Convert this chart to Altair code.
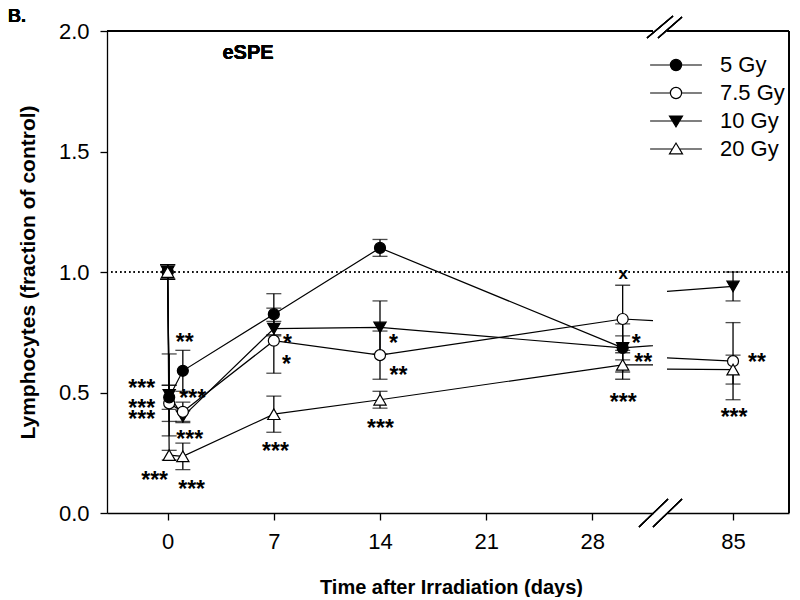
import altair as alt
import pandas as pd

FONT = "Liberation Sans"

# ---------------- data ----------------
series = ["5 Gy", "7.5 Gy", "10 Gy", "20 Gy"]
days = [0, 0.1, 1, 7, 14, 30, 85]

v5 = [1.00, 0.48, 0.59, 0.825, 1.10, 0.685, None]
e5 = [0.03, 0.05, 0.085, 0.085, 0.035, 0.05, None]
v75 = [1.00, 0.455, 0.42, 0.715, 0.655, 0.805, 0.63]
e75 = [0.03, 0.075, 0.04, 0.135, 0.10, 0.14, 0.16]
v10 = [1.00, 0.49, 0.40, 0.765, 0.77, 0.685, 0.94]
e10 = [0.03, 0.17, 0.025, 0.03, 0.11, 0.10, 0.06]
v20 = [1.00, 0.24, 0.235, 0.41, 0.47, 0.615, 0.595]
e20 = [0.03, 0.02, 0.055, 0.075, 0.035, 0.06, 0.06]

# significance annotations (text, day, value at glyph centre)
ann_text = ["***", "***", "***", "***", "**", "***", "***", "***",
            "*", "*", "***", "*", "**", "***",
            "*", "**", "***", "**", "***"]
ann_day = [-1.71, -1.71, -1.71, -0.86, 1.12, 1.65, 1.45, 1.58,
           7.9, 7.84, 7.11, 14.89, 15.22, 14.03,
           30.9, 31.36, 30.04, 86.58, 85.07]
ann_value = [0.539, 0.456, 0.407, 0.154, 0.730, 0.494, 0.324, 0.120,
             0.726, 0.635, 0.278, 0.722, 0.593, 0.373,
             0.726, 0.647, 0.481, 0.647, 0.419]
x_mark_day = [30.04]
x_mark_value = [0.988]

y_ticks = [0, 0.5, 1.0, 1.5, 2.0]
x_ticks_left = [0, 7, 14, 21, 28]
x_ticks_right = [85]

# styles
draw_order = {"10 Gy": 0, "7.5 Gy": 1, "5 Gy": 2, "20 Gy": 3}
shape_of = {"5 Gy": "circle", "7.5 Gy": "circle", "10 Gy": "triangle-down", "20 Gy": "triangle-up"}
fill_of = {"5 Gy": "black", "7.5 Gy": "white", "10 Gy": "black", "20 Gy": "white"}
size_of = {"5 Gy": 121, "7.5 Gy": 121, "10 Gy": 150, "20 Gy": 150}
legend_paths = [
    "M-3.7,0L-0.8,0M0.8,0L3.7,0M-0.8,0A0.8,0.8,0,1,1,0.8,0A0.8,0.8,0,1,1,-0.8,0Z",
    "M-3.7,0L-0.8,0M0.8,0L3.7,0M-0.8,0A0.8,0.8,0,1,1,0.8,0A0.8,0.8,0,1,1,-0.8,0Z",
    "M-3.7,0L-0.5,0M0.5,0L3.7,0M-0.93,-0.7L0.93,-0.7L0,0.85Z",
    "M-3.7,0L-0.5,0M0.5,0L3.7,0M-0.93,0.7L0.93,0.7L0,-0.85Z",
]
legend_fills = ["black", "white", "black", "white"]

rows = []
for s, vals, errs in zip(series, [v5, v75, v10, v20], [e5, e75, e10, e20]):
    for d, v, e in zip(days, vals, errs):
        if v is None:
            continue
        rows.append(dict(series=s, day=d, value=v, lo=v - e, hi=v + e,
                         shape=shape_of[s], fillc=fill_of[s], msize=size_of[s],
                         z=draw_order[s]))
df = pd.DataFrame(rows).sort_values(["z", "day"]).reset_index(drop=True)
ann = pd.DataFrame(dict(text=ann_text, day=ann_day, value=ann_value))
xm = pd.DataFrame(dict(text=["x"], day=x_mark_day, value=x_mark_value))
leg_df = pd.DataFrame(dict(series=series))

H = 482
WL, WR = 546, 122
GAP = 14


def panel(domain, width, xticks, left):
    xs = alt.Scale(domain=domain, nice=False, zero=False)
    xaxis = alt.Axis(values=xticks, format="d", titlePadding=25,
                     title="Time after Irradiation (days)" if left else None,
                     titleX=344 if left else 0)
    ys = alt.Scale(domain=[0, 2], nice=False)
    yaxis = alt.Axis(values=y_ticks, format=".1f", titleFontSize=21,
                     title="Lymphocytes (fraction of control)") if left else None

    def X(f="day"):
        return alt.X(f"{f}:Q", scale=xs, axis=xaxis)

    def Y(f="value"):
        return alt.Y(f"{f}:Q", scale=ys, axis=yaxis)

    base = alt.Chart(df)
    lines = base.mark_line(color="black", strokeWidth=1.2, clip=True).encode(
        x=X(), y=Y(), detail="series:N", order="day:Q")
    inrange = (alt.datum.day >= domain[0]) & (alt.datum.day <= domain[1])
    err = base.transform_filter(inrange).mark_rule(color="black", strokeWidth=1.3).encode(
        x=X(), y=Y("lo"), y2="hi:Q")
    cap_lo = base.transform_filter(inrange).mark_tick(
        orient="horizontal", size=15, thickness=1.3, color="black").encode(x=X(), y=Y("lo"))
    cap_hi = base.transform_filter(inrange).mark_tick(
        orient="horizontal", size=15, thickness=1.3, color="black").encode(x=X(), y=Y("hi"))
    pts = base.transform_filter(inrange).mark_point(
        filled=True, stroke="black", strokeWidth=1.2, opacity=1).encode(
        x=X(), y=Y(),
        shape=alt.Shape("shape:N", scale=None),
        fill=alt.Fill("fillc:N", scale=None),
        size=alt.Size("msize:Q", scale=None))
    stars = alt.Chart(ann).transform_filter(inrange).mark_text(
        font=FONT, fontSize=23, fontWeight="bold",
        baseline="alphabetic", dy=12.5, color="black").encode(
        x=X(), y=Y(), text="text:N")
    top = alt.Chart(leg_df).mark_rule(color="black", strokeWidth=1.3).encode(
        x=alt.value(0), x2=alt.value(width), y=alt.value(0))
    layers = [lines, err, cap_lo, cap_hi, pts, stars, top]
    if left:
        dotted = alt.Chart(leg_df).mark_rule(color="black", strokeWidth=1.2,
                                             strokeDash=[1.5, 3]).encode(
            y=alt.datum(1.0), x=alt.value(4), x2=alt.value(WL + GAP + WR))
        xmark = alt.Chart(xm).mark_text(font=FONT, fontSize=17, fontWeight="bold",
                                        baseline="alphabetic", dy=4,
                                        color="black").encode(
            x=X(), y=Y(), text="text:N")
        label = alt.Chart(leg_df).mark_text(font=FONT, fontSize=20, fontWeight="bold",
                                            text="eSPE", color="black",
                                            baseline="middle").encode(
            x=alt.value(141), y=alt.value(22))
        panel_tag = alt.Chart(leg_df).mark_text(font=FONT, fontSize=18, fontWeight="bold",
                                                text="B.", color="black", align="left",
                                                baseline="alphabetic").encode(
            x=alt.value(-99), y=alt.value(-9))
        slash = []
        for (a, b, c, d) in [(540, 7, 566, -15), (551, 7, 575, -14),
                             (532, H + 14, 561, H - 14), (546, H + 14, 575, H - 14)]:
            slash.append(alt.Chart(leg_df).mark_rule(color="black", strokeWidth=1.2).encode(
                x=alt.value(a), y=alt.value(b), x2=alt.value(c), y2=alt.value(d)))
        layers = [dotted] + layers + [xmark, label, panel_tag] + slash
    else:
        right = alt.Chart(leg_df).mark_rule(color="black", strokeWidth=1.3).encode(
            x=alt.value(width), y=alt.value(0), y2=alt.value(H))
        leg = alt.Legend(title=None, orient="none", legendX=558, legendY=23,
                         labelFontSize=22, labelFont=FONT, labelColor="black",
                         symbolSize=196, symbolStrokeWidth=1.2, symbolStrokeColor="black",
                         labelOffset=33, rowPadding=6, padding=0, symbolOpacity=1)
        legend_layer = alt.Chart(leg_df).mark_point(filled=True, stroke="black",
                                                    strokeWidth=1.2, clip=True).encode(
            x=alt.value(-500), y=alt.value(-500),
            shape=alt.Shape("series:N", scale=alt.Scale(domain=series, range=legend_paths),
                            legend=leg, sort=series),
            fill=alt.Fill("series:N", scale=alt.Scale(domain=series, range=legend_fills),
                          legend=leg, sort=series))
        layers = layers + [right, legend_layer]
    return alt.layer(*layers).properties(width=width, height=H)


left = panel([-4, 32], WL, x_ticks_left, True)
right = panel([80.65, 80.65 + WR / 15.18], WR, x_ticks_right, False)

chart = alt.hconcat(left, right, spacing=GAP, bounds="flush").properties(
    padding={"left": 0, "top": 0, "right": 0, "bottom": 0},
).configure_view(stroke=None).configure_axis(
    domainColor="black", domainWidth=1.3, tickColor="black", tickWidth=1.3,
    tickSize=7, labelFontSize=22, labelFont=FONT, labelColor="black",
    labelPadding=11, grid=False, titleFontSize=20, titleFontWeight="bold",
    titleFont=FONT, titleColor="black", titlePadding=20,
)

chart.save("out.html", embed_options={"renderer": "svg", "actions": False})
